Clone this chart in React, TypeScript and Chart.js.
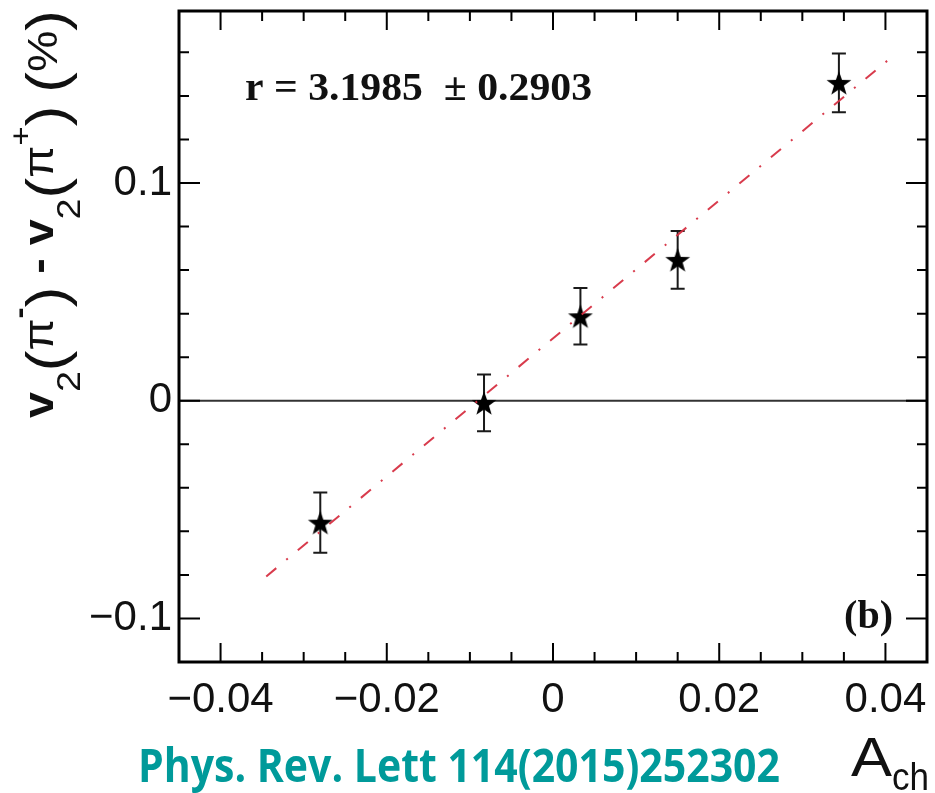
import React, { useEffect, useRef } from 'react';
import { Chart, registerables } from 'chart.js';

Chart.register(...registerables);

// ---- data ----
const achValues = [-0.028, -0.0083, 0.0033, 0.015, 0.0344];
const dv2Values = [-0.056, -0.001, 0.0388, 0.0647, 0.146];
const dv2Errors = [0.0138, 0.013, 0.013, 0.0133, 0.0135];
const fitX = [-0.0345, 0.0403];
const fitY = [-0.0807, 0.1564];
const zeroX = [-0.045, 0.045];
const zeroY = [0, 0];
const xTickValues = [-0.04, -0.02, 0, 0.02, 0.04];
const yTickValues = [-0.1, 0, 0.1];
const xRange = [-0.045, 0.045];
const yRange = [-0.12, 0.179];
const xMinorStep = 0.005;
const yMinorStep = 0.02;
const fitLabel = 'r = 3.1985  \u00b1 0.2903';
const panelLabel = '(b)';
const referenceLabel = 'Phys. Rev. Lett 114(2015)252302';

const SANS = '"Liberation Sans", Arial, sans-serif';
const SERIF = '"Liberation Serif", "Times New Roman", serif';

const fmt = (v: number) => {
  if (Math.abs(v) < 1e-9) return '0';
  return (v < 0 ? '\u2212' : '') + String(Math.abs(+v.toFixed(4)));
};

function makeStar(R: number): HTMLCanvasElement {
  const c = document.createElement('canvas');
  const s = Math.ceil(R * 2 + 4);
  c.width = s;
  c.height = s;
  const g = c.getContext('2d')!;
  g.translate(s / 2, s / 2 + R * 0.095);
  g.beginPath();
  const r = R * 0.4;
  for (let i = 0; i < 10; i++) {
    const rad = i % 2 === 0 ? R : r;
    const a = -Math.PI / 2 + (i * Math.PI) / 5;
    const px = rad * Math.cos(a);
    const py = rad * Math.sin(a);
    if (i === 0) g.moveTo(px, py);
    else g.lineTo(px, py);
  }
  g.closePath();
  g.fillStyle = '#000';
  g.fill();
  return c;
}

function fitText(ctx: CanvasRenderingContext2D, text: string, x: number, y: number, font: string, width: number, color: string) {
  ctx.save();
  ctx.font = font;
  ctx.fillStyle = color;
  ctx.textAlign = 'left';
  ctx.textBaseline = 'alphabetic';
  const w = ctx.measureText(text).width;
  ctx.translate(x, y);
  ctx.scale(width / w, 1);
  ctx.fillText(text, 0, 0);
  ctx.restore();
}

type Seg = [string, string, number];
const yTitleSegs: Seg[] = [
  ['v', `bold 42px ${SANS}`, 0],
  ['2', `34px ${SANS}`, 27],
  ['(', `56px ${SANS}`, 12],
  ['\u03c0', `42px ${SANS}`, 0],
  ['-', `bold 30px ${SANS}`, -24],
  [')', `56px ${SANS}`, 12],
  [' - ', `bold 42px ${SANS}`, 0],
  ['v', `bold 42px ${SANS}`, 0],
  ['2', `34px ${SANS}`, 27],
  ['(', `56px ${SANS}`, 12],
  ['\u03c0', `42px ${SANS}`, 0],
  ['+', `30px ${SANS}`, -22],
  [')', `56px ${SANS}`, 12],
  [' ', `42px ${SANS}`, 0],
  ['(', `56px ${SANS}`, 12],
  ['%', `42px ${SANS}`, 4],
  [')', `56px ${SANS}`, 12],
];

const framePlugin = {
  id: 'rootFrame',
  beforeDatasetsDraw(chart: any) {
    const { ctx, scales } = chart;
    const xs = scales.x;
    const ys = scales.y;
    ctx.save();
    ctx.strokeStyle = '#1a1a1a';
    ctx.lineWidth = 2;
    for (let i = 0; i < achValues.length; i++) {
      const px = xs.getPixelForValue(achValues[i]);
      const top = ys.getPixelForValue(dv2Values[i] + dv2Errors[i]);
      const bot = ys.getPixelForValue(dv2Values[i] - dv2Errors[i]);
      ctx.beginPath();
      ctx.moveTo(px, top);
      ctx.lineTo(px, bot);
      ctx.moveTo(px - 7, top);
      ctx.lineTo(px + 7, top);
      ctx.moveTo(px - 7, bot);
      ctx.lineTo(px + 7, bot);
      ctx.stroke();
    }
    ctx.restore();
  },
  afterDraw(chart: any) {
    const { ctx, chartArea, scales } = chart;
    const { left, right, top, bottom } = chartArea;
    const xs = scales.x;
    const ys = scales.y;
    ctx.save();
    // ticks
    ctx.strokeStyle = '#000';
    ctx.lineWidth = 2;
    ctx.beginPath();
    const kx0 = Math.ceil(xRange[0] / xMinorStep - 1e-6);
    const kx1 = Math.floor(xRange[1] / xMinorStep + 1e-6);
    for (let k = kx0; k <= kx1; k++) {
      const v = k * xMinorStep;
      const px = xs.getPixelForValue(v);
      if (px < left + 3 || px > right - 3) continue;
      const q = v / 0.02;
      const major = Math.abs(q - Math.round(q)) < 1e-6;
      const len = major ? 19 : 10;
      ctx.moveTo(px, bottom);
      ctx.lineTo(px, bottom - len);
      ctx.moveTo(px, top);
      ctx.lineTo(px, top + len);
    }
    const ky0 = Math.ceil(yRange[0] / yMinorStep - 1e-6);
    const ky1 = Math.floor(yRange[1] / yMinorStep + 1e-6);
    for (let k = ky0; k <= ky1; k++) {
      const v = k * yMinorStep;
      const py = ys.getPixelForValue(v);
      if (py < top + 3 || py > bottom - 3) continue;
      const q = v / 0.1;
      const major = Math.abs(q - Math.round(q)) < 1e-6;
      const len = major ? 21 : 10;
      ctx.moveTo(left, py);
      ctx.lineTo(left + len, py);
      ctx.moveTo(right, py);
      ctx.lineTo(right - len, py);
    }
    ctx.stroke();
    // frame
    ctx.lineWidth = 3;
    ctx.strokeRect(left, top, right - left, bottom - top);
    ctx.restore();

    // texts
    fitText(ctx, fitLabel, 245, 100, `bold 40px ${SERIF}`, 347, '#111');
    ctx.save();
    ctx.font = `bold 40px ${SERIF}`;
    ctx.fillStyle = '#111';
    ctx.textAlign = 'right';
    ctx.textBaseline = 'alphabetic';
    ctx.fillText(panelLabel, 893, 628);
    ctx.restore();
    fitText(ctx, referenceLabel, 138, 782, `bold 46px "Open Sans", ${SANS}`, 642, '#009a9a');
    fitText(ctx, 'A', 851, 776, `56px ${SANS}`, 41, '#111');
    fitText(ctx, 'ch', 892, 790, `38px ${SANS}`, 37, '#111');

    // rotated y title
    ctx.save();
    ctx.fillStyle = '#111';
    ctx.textBaseline = 'alphabetic';
    ctx.textAlign = 'left';
    let total = 0;
    for (const [t, f] of yTitleSegs) {
      ctx.font = f;
      total += ctx.measureText(t).width;
    }
    const targetLen = 408;
    ctx.translate(53, 418);
    ctx.rotate(-Math.PI / 2);
    ctx.scale(targetLen / total, 1);
    let cx = 0;
    for (const [t, f, off] of yTitleSegs) {
      ctx.font = f;
      ctx.fillText(t, cx, off);
      cx += ctx.measureText(t).width;
    }
    ctx.restore();
  },
};

export default function App() {
  const ref = useRef<HTMLCanvasElement>(null);
  useEffect(() => {
    const star = makeStar(13);
    const points = achValues.map((x, i) => ({ x, y: dv2Values[i] }));
    const fit = fitX.map((x, i) => ({ x, y: fitY[i] }));
    const zero = zeroX.map((x, i) => ({ x, y: zeroY[i] }));
    const chart = new Chart(ref.current!, {
      type: 'scatter',
      data: {
        datasets: [
          {
            label: 'fit',
            data: fit,
            showLine: true,
            borderColor: 'rgba(214,48,66,0.95)',
            borderWidth: 2,
            borderDash: [13, 13, 2, 13],
            pointRadius: 0,
            order: 0,
          },
          {
            label: 'data',
            data: points,
            pointStyle: star as any,
            pointRadius: 12,
            order: 1,
          },
          {
            label: 'zero',
            data: zero,
            showLine: true,
            borderColor: '#333',
            borderWidth: 2,
            pointRadius: 0,
            order: 2,
          },
        ],
      } as any,
      options: {
        responsive: false,
        devicePixelRatio: 1,
        animation: false,
        events: [],
        layout: { autoPadding: false, padding: { left: 0, right: 8, top: 11, bottom: 0 } },
        plugins: { legend: { display: false }, tooltip: { enabled: false } },
        scales: {
          x: {
            type: 'linear',
            position: 'bottom',
            min: xRange[0],
            max: xRange[1],
            grid: { display: false, drawTicks: false },
            border: { display: false },
            ticks: {
              font: { family: SANS, size: 42 },
              color: '#111',
              padding: 13,
              maxRotation: 0,
              autoSkip: false,
              callback: (v: any) => fmt(Number(v)),
            },
            afterBuildTicks: (scale: any) => {
              scale.ticks = xTickValues.map((value) => ({ value }));
            },
            afterFit: (scale: any) => {
              scale.height = 131;
              scale.paddingLeft = 0;
              scale.paddingRight = 0;
              scale.paddingTop = 0;
              scale.paddingBottom = 0;
            },
          },
          y: {
            type: 'linear',
            position: 'left',
            min: yRange[0],
            max: yRange[1],
            grid: { display: false, drawTicks: false },
            border: { display: false },
            ticks: {
              font: { family: SANS, size: 42 },
              color: '#111',
              padding: 7,
              autoSkip: false,
              callback: (v: any) => fmt(Number(v)),
            },
            afterBuildTicks: (scale: any) => {
              scale.ticks = yTickValues.map((value) => ({ value }));
            },
            afterFit: (scale: any) => {
              scale.width = 179;
              scale.paddingLeft = 0;
              scale.paddingRight = 0;
              scale.paddingTop = 0;
              scale.paddingBottom = 0;
            },
          },
        },
      } as any,
      plugins: [framePlugin],
    });
    return () => chart.destroy();
  }, []);
  return (
    <div style={{ position: 'absolute', left: 0, top: 0, width: 935, height: 793, background: '#fff' }}>
      <canvas ref={ref} width={935} height={793} style={{ display: 'block', width: 935, height: 793 }} />
    </div>
  );
}
